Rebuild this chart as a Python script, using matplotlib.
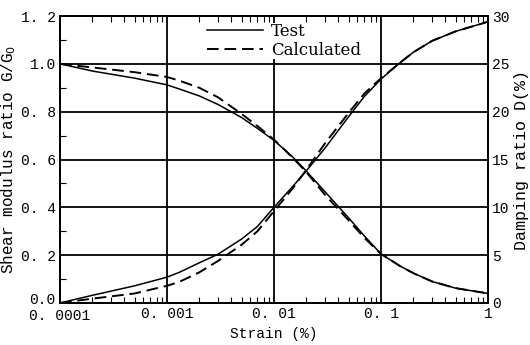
import matplotlib
matplotlib.use("Agg")
import matplotlib.pyplot as plt
from matplotlib.ticker import FixedLocator, NullFormatter, LogLocator
from matplotlib.transforms import ScaledTranslation

strain = [1e-4, 2e-4, 5e-4, 1e-3, 1.3e-3, 2e-3, 3e-3, 5e-3, 7e-3, 1e-2, 1.5e-2, 2e-2,
          3e-2, 5e-2, 7e-2, 1e-1, 1.5e-1, 2e-1, 3e-1, 5e-1, 1.0]

G_test = [1.0, 0.97, 0.94, 0.912, 0.895, 0.866, 0.83, 0.775, 0.73, 0.68, 0.61, 0.552,
          0.465, 0.355, 0.28, 0.205, 0.155, 0.125, 0.09, 0.062, 0.040]
G_calc = [1.0, 0.985, 0.965, 0.945, 0.93, 0.9, 0.86, 0.79, 0.74, 0.683, 0.607, 0.548,
          0.452, 0.345, 0.272, 0.205, 0.155, 0.125, 0.09, 0.062, 0.040]
D_test = [0.0, 0.8, 1.8, 2.7, 3.2, 4.2, 5.1, 6.7, 8.0, 10.0, 12.2, 13.8,
          16.2, 19.5, 21.6, 23.4, 25.1, 26.2, 27.4, 28.4, 29.4]
D_calc = [0.0, 0.45, 1.0, 1.8, 2.2, 3.2, 4.4, 6.1, 7.5, 9.6, 12.0, 13.9,
          16.7, 19.9, 21.9, 23.5, 25.1, 26.2, 27.4, 28.4, 29.4]

x_ticks = [1e-4, 1e-3, 1e-2, 1e-1, 1]
x_labels = ["0. 0001", "0. 001", "0. 01", "0. 1", "1"]
g_ticks = [0.0, 0.2, 0.4, 0.6, 0.8, 1.0, 1.2]
g_labels = ["0.0", "0. 2", "0. 4", "0. 6", "0. 8", "1.0", "1. 2"]
d_ticks = [0, 5, 10, 15, 20, 25, 30]

mono = "Liberation Mono"
serif = "DejaVu Serif"

fig = plt.figure(figsize=(5.3, 3.45), dpi=100)
ax = fig.add_axes([60/530, 1-303/345, (488-60)/530, (303-16)/345])
ax2 = ax.twinx()

ax.set_xscale("log")
ax.set_xlim(1e-4, 1)
ax.set_ylim(0, 1.2)
ax2.set_ylim(0, 30)

ax.plot(strain, G_test, color="black", lw=1.1, label="Test")
ax.plot(strain, G_calc, color="black", lw=1.4, ls=(0, (6, 3)), label="Calculated")
ax2.plot(strain, D_test, color="black", lw=1.1)
ax2.plot(strain, D_calc, color="black", lw=1.4, ls=(0, (6, 3)))

ax.set_xticks(x_ticks)
ax.set_xticklabels(x_labels, fontfamily=mono, fontsize=10.5)
ax.xaxis.set_minor_locator(LogLocator(base=10, subs=range(2, 10)))
ax.xaxis.set_minor_formatter(NullFormatter())
ax.set_yticks(g_ticks)
ax.set_yticklabels(g_labels, fontfamily=mono, fontsize=10.5)
ax.yaxis.set_minor_locator(FixedLocator([0.1, 0.3, 0.5, 0.7, 0.9, 1.1]))
ax2.set_yticks(d_ticks)
ax2.set_yticklabels([str(v) for v in d_ticks], fontfamily=mono, fontsize=10.5)

ax.tick_params(axis="x", which="major", direction="in", length=0, pad=3, top=False)
ax.tick_params(axis="x", which="minor", direction="in", length=4, width=0.8, top=True, bottom=True)
ax.tick_params(axis="y", which="major", direction="in", length=0, pad=3)
ax.tick_params(axis="y", which="minor", direction="in", length=4, width=0.8)
ax2.tick_params(axis="y", which="major", direction="in", length=0, pad=3)

# nudge the crowded corner labels apart a little
ylab0 = ax.get_yticklabels()[0]
ylab0.set_transform(ylab0.get_transform() + ScaledTranslation(0, 4/100, fig.dpi_scale_trans))
xlab0 = ax.get_xticklabels()[0]
xlab0.set_transform(xlab0.get_transform() + ScaledTranslation(0, -2/100, fig.dpi_scale_trans))

ax.grid(True, which="major", color="black", lw=1.3)
for s in ax.spines.values():
    s.set_linewidth(1.4)
for s in ax2.spines.values():
    s.set_linewidth(1.4)

ax.set_xlabel("Strain (%)", fontfamily=mono, fontsize=10.5, labelpad=3)
ax.set_ylabel("Shear modulus ratio G/G$_0$", fontfamily=mono, fontsize=11.5, labelpad=2)
ax2.set_ylabel("Damping ratio D(%)", fontfamily=mono, fontsize=12, labelpad=3, rotation=90)

ax2.set_zorder(ax.get_zorder() - 1)
ax.patch.set_visible(False)

leg = ax.legend(loc="upper left", bbox_to_anchor=(0.342, 0.976), frameon=True,
                prop={"family": serif, "size": 12}, handlelength=3.4,
                handletextpad=0.45, labelspacing=0.1, borderaxespad=0,
                borderpad=0.02, fancybox=False)
leg.get_frame().set_facecolor("white")
leg.get_frame().set_edgecolor("none")
leg.get_frame().set_alpha(1)

fig.savefig("out.png", dpi=100)
